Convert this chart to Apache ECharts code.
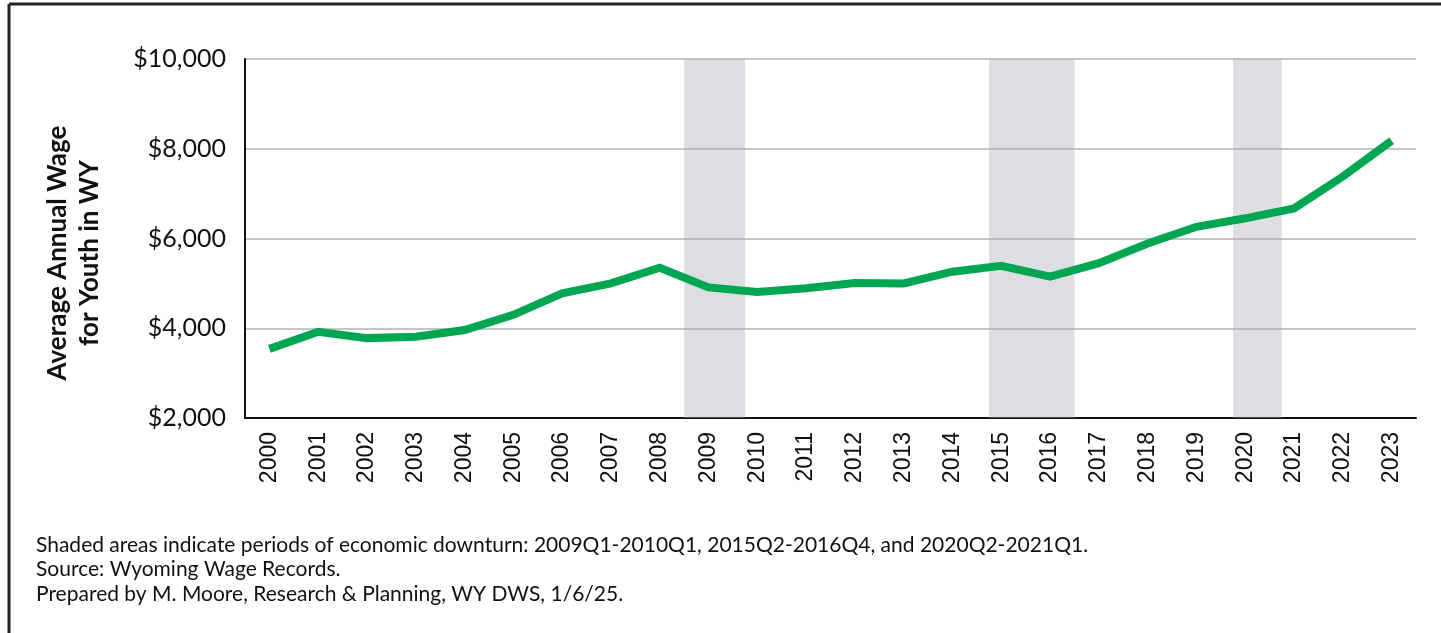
<!DOCTYPE html>
<html>
<head>
<meta charset="utf-8">
<script src="https://cdn.jsdelivr.net/npm/echarts@6/dist/echarts.min.js"></script>
<style>
  html, body { margin: 0; padding: 0; background: #fff; }
  #chart { width: 1441px; height: 633px; }
</style>
</head>
<body>
<div id="chart"></div>
<script>
// years on the category axis
var years = ['2000','2001','2002','2003','2004','2005','2006','2007','2008','2009','2010','2011',
             '2012','2013','2014','2015','2016','2017','2018','2019','2020','2021','2022','2023'];
// average annual wage for youth in WY
var wages = [3540, 3920, 3780, 3810, 3960, 4300, 4780, 5000, 5350, 4910, 4810, 4890,
             5010, 5000, 5260, 5390, 5150, 5450, 5890, 6260, 6450, 6670, 7380, 8180];
// y axis ticks
var yTicks = [2000, 4000, 6000, 8000, 10000];
// downturn periods (quarters)
var downStart = ['2009Q1', '2015Q2', '2020Q2'];
var downEnd   = ['2010Q1', '2016Q4', '2021Q1'];
var notes = [
  'Shaded areas indicate periods of economic downturn: 2009Q1-2010Q1, 2015Q2-2016Q4, and 2020Q2-2021Q1.',
  'Source: Wyoming Wage Records.',
  'Prepared by M. Moore, Research & Planning, WY DWS, 1/6/25.'
];

//季度 -> 横轴位置 (每年一格)
function qPos(s, isEnd){
    var y = parseInt(s.substr(0,4)) - parseInt(years[0]);
    var q = parseInt(s.substr(5,1));
    return isEnd ? y + q/4 : y + (q-1)/4;
}
var areas = [];
for (var i = 0; i < downStart.length; i++) {
    areas.push([{xAxis: qPos(downStart[i], false)}, {xAxis: qPos(downEnd[i], true)}]);
}

var chart = echarts.init(document.getElementById('chart'));
var option = {
    animation: false,
    grid: { left: 245, right: 25, top: 59, bottom: 215 },
    xAxis: [{
        type: 'category',
        data: years,
        axisLine: { lineStyle: { color: '#111', width: 2 } },
        axisTick: { inside: true, length: 7, lineStyle: { color: '#111', width: 2 } },
        axisLabel: { rotate: 90, color: '#111', fontSize: 23, fontFamily: 'Liberation Sans', margin: 14 }
    }, {
        type: 'value', min: 0, max: years.length, show: false
    }],
    yAxis: {
        type: 'value',
        min: yTicks[0], max: yTicks[yTicks.length-1], interval: 2000,
        axisLine: { show: true, lineStyle: { color: '#111', width: 2 } },
        axisTick: { show: false },
        splitLine: { lineStyle: { color: '#b3b3b3', width: 1.5 } },
        axisLabel: {
            color: '#111', fontSize: 25, fontFamily: 'Lato', margin: 19,
            formatter: function(v){ return '$' + v.toLocaleString('en-US'); }
        }
    },
    series: [{
        type: 'line',
        xAxisIndex: 1,
        data: [],
        silent: true,
        markArea: {
            silent: true,
            itemStyle: { color: 'rgba(165,168,178,0.38)' },
            data: areas
        }
    }, {
        name: 'wage',
        type: 'line',
        data: wages,
        symbol: 'none',
        z: 5,
        lineStyle: { color: '#00a651', width: 8, join: 'miter' }
    }],
    graphic: [
        { type: 'line', shape: { x1: 9, y1: 4, x2: 1441, y2: 4 }, style: { stroke: '#222', lineWidth: 3 } },
        { type: 'line', shape: { x1: 9, y1: 4, x2: 9, y2: 633 }, style: { stroke: '#222', lineWidth: 3 } },
        {
            type: 'text', x: 74, y: 253, rotation: Math.PI/2,
            style: {
                text: 'Average Annual Wage\nfor Youth in WY',
                font: 'bold 26px Lato', fill: '#111',
                textAlign: 'center', textVerticalAlign: 'middle', lineHeight: 32
            }
        },
        { type: 'text', left: 36, top: 535, style: { text: notes[0], font: '21px Lato', fill: '#111' } },
        { type: 'text', left: 36, top: 559, style: { text: notes[1], font: '21px Lato', fill: '#111' } },
        { type: 'text', left: 36, top: 584, style: { text: notes[2], font: '21px Lato', fill: '#111' } }
    ]
};
chart.setOption(option);
</script>
</body>
</html>
